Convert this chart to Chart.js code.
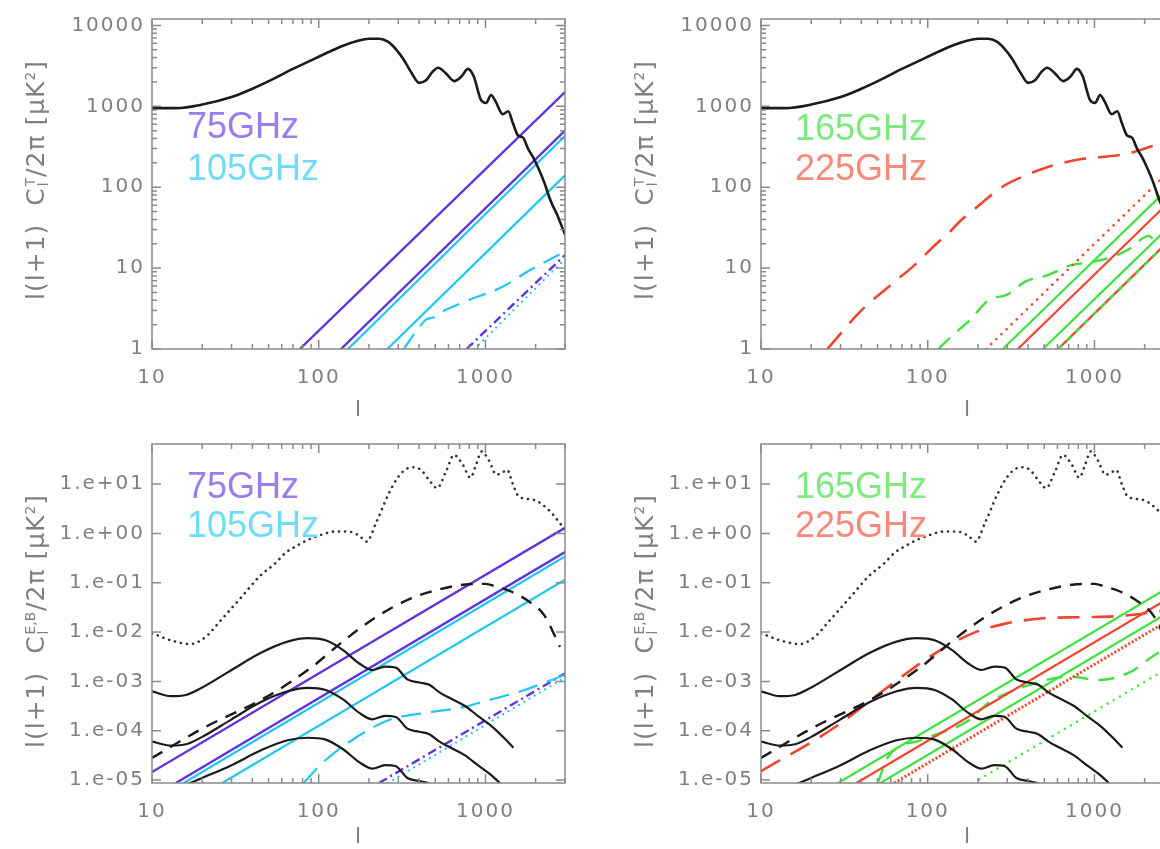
<!DOCTYPE html>
<html>
<head>
<meta charset="utf-8">
<title>Foreground spectra</title>
<script src="https://cdn.jsdelivr.net/npm/chart.js@4.4.1/dist/chart.umd.min.js"></script>
<style>
  html, body { margin: 0; padding: 0; background: #fff; }
  body { position: relative; width: 1160px; height: 849px; overflow: hidden; font-family: "DejaVu Sans", sans-serif; }
  canvas { position: absolute; }
  .ytitle { position: absolute; white-space: nowrap; color: #808080; font-size: 25px; letter-spacing: 1px; transform: translate(-50%, -50%) rotate(-90deg); }
  .xtitle { position: absolute; color: #808080; font-size: 22px; transform: translate(-50%, -50%); }
  .band { position: absolute; font-family: "Liberation Sans", Arial, sans-serif; font-size: 36px; line-height: 1; white-space: nowrap; }
  .ss { display: inline-flex; flex-direction: column; font-size: 0.55em; line-height: 0.95; vertical-align: middle; margin: 0 1px; letter-spacing: 0; }
  sup { font-size: 0.55em; }
</style>
</head>
<body>
<canvas id="tt1" width="580" height="420" style="left:0;top:0"></canvas>
<canvas id="tt2" width="580" height="420" style="left:609px;top:0"></canvas>
<canvas id="pol1" width="580" height="429" style="left:0;top:420px"></canvas>
<canvas id="pol2" width="580" height="429" style="left:609px;top:420px"></canvas>

<div class="ytitle" style="left:36px;top:180px">l(l+1)&nbsp; C<span class="ss"><span>T</span><span>l</span></span>/2π [μK<sup>2</sup>]</div>
<div class="ytitle" style="left:645px;top:180px">l(l+1)&nbsp; C<span class="ss"><span>T</span><span>l</span></span>/2π [μK<sup>2</sup>]</div>
<div class="ytitle" style="left:36px;top:621px">l(l+1)&nbsp; C<span class="ss"><span>E,B</span><span>l</span></span>/2π [μK<sup>2</sup>]</div>
<div class="ytitle" style="left:645px;top:621px">l(l+1)&nbsp; C<span class="ss"><span>E,B</span><span>l</span></span>/2π [μK<sup>2</sup>]</div>
<div class="xtitle" style="left:358px;top:408px">l</div>
<div class="xtitle" style="left:967px;top:408px">l</div>
<div class="xtitle" style="left:358px;top:835px">l</div>
<div class="xtitle" style="left:967px;top:835px">l</div>

<div class="band" style="left:187px;top:108px;color:#9a7cf0">75GHz</div>
<div class="band" style="left:187px;top:150px;color:#70dcf8">105GHz</div>
<div class="band" style="left:795px;top:110px;color:#7eea7e">165GHz</div>
<div class="band" style="left:795px;top:150px;color:#f68a7a">225GHz</div>
<div class="band" style="left:187px;top:468px;color:#9a7cf0">75GHz</div>
<div class="band" style="left:187px;top:507px;color:#70dcf8">105GHz</div>
<div class="band" style="left:795px;top:468px;color:#7eea7e">165GHz</div>
<div class="band" style="left:795px;top:507px;color:#f68a7a">225GHz</div>

<script>
// axes
const xTicks = [10, 100, 1000];
const xTickLabels = ['10', '100', '1000'];
const xMinor = [20, 30, 40, 50, 60, 70, 80, 90, 200, 300, 400, 500, 600, 700, 800, 900, 2000, 3000];
const ttTicks = [1, 10, 100, 1000, 10000];
const ttTickLabels = ['1', '10', '100', '1000', '10000'];
const ttMinor = [2, 3, 4, 5, 6, 7, 8, 9, 20, 30, 40, 50, 60, 70, 80, 90,
  200, 300, 400, 500, 600, 700, 800, 900, 2000, 3000, 4000, 5000, 6000, 7000, 8000, 9000];
const polTicks = [1e-5, 1e-4, 1e-3, 1e-2, 1e-1, 1, 10];
const polTickLabels = ['1.e-05', '1.e-04', '1.e-03', '1.e-02', '1.e-01', '1.e+00', '1.e+01'];

// CMB temperature spectrum
const ttL = [10, 14, 20, 30, 40, 55, 70, 90, 110, 140, 170, 200, 230, 260, 290, 320, 360, 400, 440, 480, 520, 580,
  650, 720, 785, 850, 940, 1010, 1080, 1150, 1270, 1370, 1460, 1570, 1680, 1800, 1930, 2080, 2240, 2460, 2700, 2850, 3000];
const ttD = [950, 950, 1050, 1300, 1650, 2250, 2900, 3700, 4500, 5600, 6400, 6850, 6850, 6300, 5100, 3900, 2600, 1950, 2100, 2650, 3000, 2550,
  2050, 2350, 2900, 2350, 1200, 1100, 1380, 1150, 800, 870, 620, 435, 410, 300, 235, 170, 118, 68, 45, 34, 26];

// 75 / 105 GHz, temperature
const t75aL = [77, 3000], t75aD = [1, 1500];
const t75bL = [136, 3000], t75bD = [1, 500];
const t105aL = [150, 3000], t105aD = [1, 430];
const t105bL = [258, 3000], t105bD = [1, 140];
const t105dashL = [324, 380, 440, 500, 568, 700, 860, 1000, 1230, 1500, 1760, 2200, 3000];
const t105dashD = [1, 1.6, 2.3, 2.5, 3.0, 3.6, 4.3, 4.8, 5.7, 7.2, 8.9, 11.5, 16];
const t75ddL = [770, 3000], t75ddD = [1, 14.5];
const t105dotL = [860, 3000], t105dotD = [1, 13];

// 165 / 225 GHz, temperature
const t225dotL = [224, 3000], t225dotD = [1, 179];
const t165aL = [282, 3000], t165aD = [1, 113];
const t225aL = [347, 3000], t225aD = [1, 75];
const t165bL = [491, 3000], t165bD = [1, 37];
const t225cL = [605, 3000], t225cD = [1, 25];
const t165dashL = [116, 139, 180, 231, 300, 385, 525, 720, 980, 1250, 1600, 2130, 2300, 3000];
const t165dashD = [1, 1.44, 2.3, 4.0, 4.7, 6.8, 8.2, 10.8, 12, 13.5, 17, 25, 22, 30];
const t225dashL = [25, 40, 60, 83, 110, 138, 156, 200, 282, 387, 500, 645, 855, 1075, 1420, 1620, 2460, 3000];
const t225dashD = [1, 3.0, 6.2, 10.8, 19, 29, 38, 58, 102, 140, 172, 200, 225, 235, 250, 263, 340, 365];

// CMB polarisation spectra
const eeL = [10, 13, 17, 21, 26, 35, 44, 55, 63, 75, 86, 105, 123, 150, 175, 194, 220, 264, 300, 342, 380, 419, 460, 513,
  580, 647, 730, 812, 880, 949, 1050, 1164, 1260, 1349, 1460, 1585, 1945, 2390, 3000];
const eeD = [9.5e-3, 6.8e-3, 5.7e-3, 8e-3, 0.0177, 0.055, 0.133, 0.25, 0.40, 0.58, 0.74, 0.95, 1.09, 1.09, 0.9, 0.68, 1.6, 6.6, 14, 21, 22, 18, 12, 8.3,
  18, 39, 25, 13.5, 25, 46, 30, 15.5, 17, 19.5, 10, 5.6, 4.8, 3.0, 1.2];
const lensL = [10, 20, 49, 90, 143, 220, 342, 500, 736, 1000, 1164, 1400, 1760, 2250, 2800];
const lensD = [2.8e-5, 1.1e-4, 4.9e-4, 1.9e-3, 6.9e-3, 0.02, 0.045, 0.07, 0.091, 0.095, 0.083, 0.068, 0.045, 0.022, 5e-3];
const bbL = [10, 13, 16, 20, 30, 45, 65, 86, 110, 140, 175, 210, 250, 290, 340, 400, 460, 530, 620, 750, 900, 1100, 1300, 1470];
const bb1D = [6.3e-4, 5e-4, 5.3e-4, 7.5e-4, 1.7e-3, 3.8e-3, 6.4e-3, 7.5e-3, 6.8e-3, 4.3e-3, 2.3e-3, 1.7e-3, 2.0e-3, 1.9e-3,
  1.1e-3, 9.5e-4, 8.5e-4, 6e-4, 4.5e-4, 3.2e-4, 2e-4, 1.2e-4, 7e-5, 4.5e-5];
const bb2D = [6e-5, 5e-5, 5.3e-5, 7.5e-5, 1.7e-4, 3.8e-4, 6.3e-4, 7.4e-4, 6.7e-4, 4.3e-4, 2.3e-4, 1.7e-4, 2.0e-4, 1.9e-4,
  1.1e-4, 9.5e-5, 8.5e-5, 6e-5, 4.5e-5, 3.2e-5, 2e-5, 1.2e-5, 7e-6, 4.5e-6];
const bb3D = [6e-6, 6e-6, 8e-6, 1.1e-5, 2e-5, 4e-5, 6.4e-5, 7.2e-5, 6.6e-5, 4.2e-5, 2.3e-5, 1.7e-5, 2.0e-5, 1.9e-5,
  1.1e-5, 9.5e-6, 8.5e-6, 6e-6, 4.5e-6, 3.2e-6, 2e-6, 1.2e-6, 7e-7, 4.5e-7];

// 75 / 105 GHz, polarisation
const p75aL = [10, 3000], p75aD = [1.45e-5, 1.3];
const p75bL = [13.9, 3000], p75bD = [8.7e-6, 0.42];
const p105aL = [15.5, 3000], p105aD = [8.7e-6, 0.34];
const p105bL = [26.4, 3000], p105bD = [8.7e-6, 0.115];
const p105dashL = [81, 105, 158, 264, 440, 736, 1000, 1580, 3000];
const p105dashD = [8.7e-6, 2.2e-5, 6.4e-5, 1.65e-4, 2.3e-4, 3e-4, 4e-4, 6.1e-4, 1.35e-3];
const p75ddL = [230, 3000], p75ddD = [8.7e-6, 1.45e-3];
const p105dotL = [260, 3000], p105dotD = [8.7e-6, 1.2e-3];

// 165 / 225 GHz, polarisation
const p165aL = [29, 3000], p165aD = [8.7e-6, 0.093];
const p225aL = [37.4, 3000], p225aD = [8.7e-6, 0.056];
const p165bL = [52, 3000], p165bD = [8.7e-6, 0.029];
const p225cL = [63, 3000], p225cD = [8.7e-6, 0.02];
const p165dotL = [187, 3000], p165dotD = [8.7e-6, 2.2e-3];
const p165dashL = [50, 58, 92, 178, 230, 447, 708, 1067, 1610, 2420, 3000];
const p165dashD = [8.5e-6, 3e-5, 6.5e-5, 1.65e-4, 3.6e-4, 9.3e-4, 1.25e-3, 1.07e-3, 1.5e-3, 3.8e-3, 5e-3];
const p225dashL = [10, 28, 58, 112, 187, 297, 495, 830, 1380, 2200, 3000];
const p225dashD = [1.5e-5, 1.2e-4, 7.8e-4, 3.8e-3, 9.5e-3, 0.015, 0.019, 0.02, 0.021, 0.025, 0.03];

const BLACK = '#1b1b1b', PURPLE = '#5f33e2', CYAN = '#22c6f2', GREEN = '#3fe23f', RED = '#f0462f';
const tickFont = { family: 'DejaVu Sans', size: 20 };
const tickColor = '#808080';

function line(ls, vs, color, width, dash, smooth) {
  return {
    data: ls.map((l, i) => ({ x: l, y: vs[i] })),
    borderColor: color,
    borderWidth: width,
    borderDash: dash || [],
    borderCapStyle: dash && dash[0] < 1 ? 'round' : 'butt',
    pointRadius: 0,
    fill: false,
    tension: 0,
    cubicInterpolationMode: smooth ? 'monotone' : 'default'
  };
}

// the old plotting font is wide, so the tick labels get some letter spacing
const wideText = {
  id: 'wideText',
  beforeDraw(chart) { chart.ctx.letterSpacing = '2px'; }
};

// frame with inward ticks on all four sides, like the original plotting package
const boxTicks = {
  id: 'boxTicks',
  afterDatasetsDraw(chart, args, opts) {
    const { ctx, chartArea: a, scales: { x, y } } = chart;
    ctx.save();
    ctx.strokeStyle = '#8a8a8a';
    ctx.lineWidth = 1.5;
    ctx.strokeRect(a.left, a.top, a.right - a.left, a.bottom - a.top);
    ctx.beginPath();
    const xt = (v, len) => {
      const px = x.getPixelForValue(v);
      ctx.moveTo(px, a.bottom); ctx.lineTo(px, a.bottom - len);
      ctx.moveTo(px, a.top); ctx.lineTo(px, a.top + len);
    };
    const yt = (v, len) => {
      const py = y.getPixelForValue(v);
      ctx.moveTo(a.left, py); ctx.lineTo(a.left + len, py);
      ctx.moveTo(a.right, py); ctx.lineTo(a.right - len, py);
    };
    xTicks.forEach(v => xt(v, 9));
    xMinor.forEach(v => xt(v, 5));
    opts.yTicks.forEach(v => yt(v, 9));
    opts.yMinor.forEach(v => yt(v, 5));
    ctx.stroke();
    ctx.restore();
  }
};

function panel(id, sets, yMin, yMax, yTicks, yLabels, yMinor, padTop, xHeight) {
  return new Chart(document.getElementById(id), {
    type: 'line',
    data: { datasets: sets },
    options: {
      responsive: false,
      animation: false,
      devicePixelRatio: 1,
      events: [],
      layout: { padding: { top: padTop, right: 15, left: 0, bottom: 0 } },
      plugins: {
        legend: { display: false },
        tooltip: { enabled: false },
        boxTicks: { yTicks: yTicks, yMinor: yMinor }
      },
      scales: {
        x: {
          type: 'logarithmic', min: 10, max: 3000,
          grid: { display: false, drawTicks: false }, border: { display: false },
          afterBuildTicks: s => { s.ticks = xTicks.map(v => ({ value: v })); },
          afterFit: s => { s.height = xHeight; },
          ticks: { autoSkip: false, maxRotation: 0, padding: 17, color: tickColor, font: tickFont,
                   callback: (v, i) => xTickLabels[i] }
        },
        y: {
          type: 'logarithmic', min: yMin, max: yMax,
          grid: { display: false, drawTicks: false }, border: { display: false },
          afterBuildTicks: s => { s.ticks = yTicks.map(v => ({ value: v })); },
          afterFit: s => { s.width = 152; },
          ticks: { autoSkip: false, padding: 7, color: tickColor, font: tickFont,
                   callback: (v, i) => yLabels[i] }
        }
      }
    },
    plugins: [wideText, boxTicks]
  });
}

panel('tt1', [
  line(ttL, ttD, BLACK, 2.6, null, true),
  line(t75aL, t75aD, PURPLE, 2.4),
  line(t75bL, t75bD, PURPLE, 2.4),
  line(t105aL, t105aD, CYAN, 2.2),
  line(t105bL, t105bD, CYAN, 2.2),
  line(t105dashL, t105dashD, CYAN, 2.2, [18, 10], true),
  line(t75ddL, t75ddD, PURPLE, 2.4, [9, 4, 2, 4]),
  line(t105dotL, t105dotD, CYAN, 2.2, [0.1, 6])
], 1, 12000, ttTicks, ttTickLabels, ttMinor, 10, 71);

panel('tt2', [
  line(ttL, ttD, BLACK, 2.6, null, true),
  line(t225dotL, t225dotD, RED, 2.6, [0.1, 7]),
  line(t165aL, t165aD, GREEN, 2.2),
  line(t225aL, t225aD, RED, 2.2),
  line(t165bL, t165bD, GREEN, 2.2),
  line(t225cL, t225cD, GREEN, 2.4, [6, 6]),
  line(t225cL, t225cD, RED, 2.4),
  line(t165dashL, t165dashD, GREEN, 2.4, [16, 10], true),
  line(t225dashL, t225dashD, RED, 2.6, [22, 12], true)
], 1, 12000, ttTicks, ttTickLabels, ttMinor, 10, 71);

panel('pol1', [
  line(eeL, eeD, '#333', 2.6, [0.1, 6], true),
  line(lensL, lensD, BLACK, 2.4, [12, 9], true),
  line(bbL, bb1D, BLACK, 2.2, null, true),
  line(bbL, bb2D, BLACK, 2.2, null, true),
  line(bbL, bb3D, BLACK, 2.2, null, true),
  line(p75aL, p75aD, PURPLE, 2.4),
  line(p75bL, p75bD, PURPLE, 2.4),
  line(p105aL, p105aD, CYAN, 2.2),
  line(p105bL, p105bD, CYAN, 2.2),
  line(p105dashL, p105dashD, CYAN, 2.2, [20, 10], true),
  line(p75ddL, p75ddD, PURPLE, 2.4, [9, 4, 2, 4]),
  line(p105dotL, p105dotD, CYAN, 2.2, [0.1, 6])
], 8.7e-6, 65, polTicks, polTickLabels, [], 24, 66);

panel('pol2', [
  line(eeL, eeD, '#333', 2.6, [0.1, 6], true),
  line(lensL, lensD, BLACK, 2.4, [12, 9], true),
  line(bbL, bb1D, BLACK, 2.2, null, true),
  line(bbL, bb2D, BLACK, 2.2, null, true),
  line(bbL, bb3D, BLACK, 2.2, null, true),
  line(p165aL, p165aD, GREEN, 2.2),
  line(p225aL, p225aD, RED, 2.2),
  line(p165bL, p165bD, GREEN, 2.2),
  line(p225cL, p225cD, RED, 3, [2, 2]),
  line(p165dotL, p165dotD, GREEN, 2.4, [0.1, 7]),
  line(p165dashL, p165dashD, GREEN, 2.4, [16, 10], true),
  line(p225dashL, p225dashD, RED, 2.6, [22, 12], true)
], 8.7e-6, 65, polTicks, polTickLabels, [], 24, 66);
</script>
</body>
</html>
